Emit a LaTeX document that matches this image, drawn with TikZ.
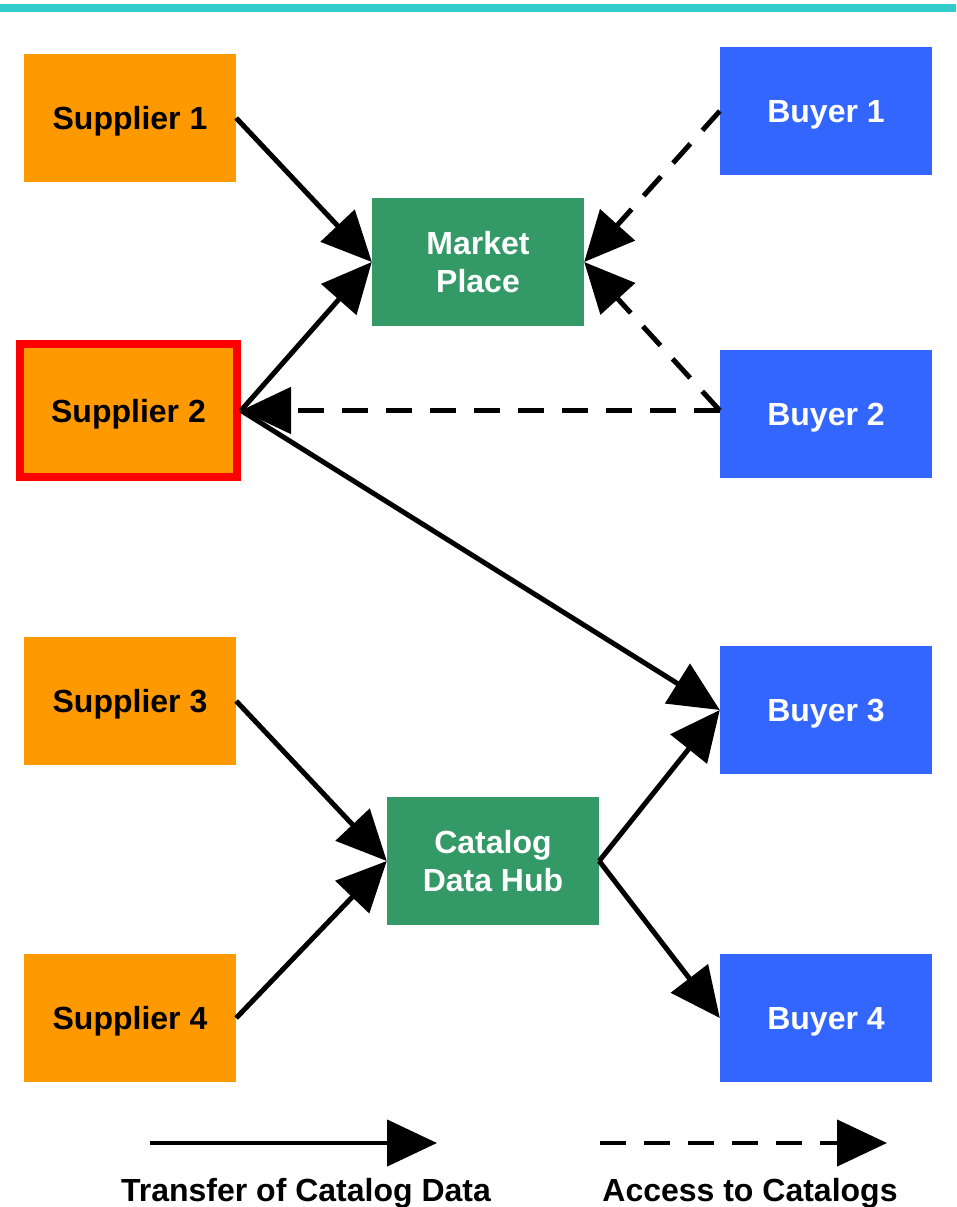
\documentclass[tikz,border=0pt]{standalone}
\usepackage{fontspec}
\setmainfont{Liberation Sans}
\usetikzlibrary{arrows.meta}
\definecolor{cam}{HTML}{FF9900}
\definecolor{xanhla}{HTML}{339966}
\definecolor{xanhduong}{HTML}{3366FF}
\definecolor{xanhngoc}{HTML}{33CCCC}
\begin{document}
\begin{tikzpicture}[x=1pt, y=-1pt, line join=miter, >={Triangle[length=50pt,width=46pt]},
	font=\fontsize{32}{38}\selectfont\bfseries]
			\tikzset{hop/.style={rectangle, minimum width=212pt, minimum height=128pt, inner sep=0pt, align=center, text depth=0pt},
				nha-cc/.style={hop, fill=cam, text=black},
				nguoi-mua/.style={hop, fill=xanhduong, text=white},
				trung-gian/.style={hop, fill=xanhla, text=white},
				truyen/.style={line width=5pt, ->},
				truy-cap/.style={line width=5pt, ->, dash pattern=on 26pt off 18pt}}
			\useasboundingbox (0,0) rectangle (956,1207);
			\fill[xanhngoc] (0,4) rectangle (956,12);
			% nha cung cap, nguoi mua
			\foreach \i/\y in {1/118,3/701,4/1018} \node[nha-cc] (sup\i) at (130,\y) {Supplier \i};
			\node[nha-cc, minimum width=217pt, minimum height=133pt, draw=red, line width=8pt] (sup2) at (128.5,410.5) {Supplier 2};
			\foreach \i/\y in {1/111,2/414,3/710,4/1018} \node[nguoi-mua] (buy\i) at (826,\y) {Buyer \i};
			\node[trung-gian] (mkt) at (478,262) {Market\\Place};
			\node[trung-gian] (hub) at (493,861) {Catalog\\Data Hub};
			\coordinate (b2w) at (buy2.west |- sup2.east);
			% mui ten
			\draw[truyen] (sup1.east)--(mkt.west);
			\draw[truyen] (sup2.east)--(mkt.west);
			\draw[truyen] (sup2.east)--(buy3.west);
			\draw[truyen] (sup3.east)--(hub.west);
			\draw[truyen] (sup4.east)--(hub.west);
			\draw[truyen] (hub.east)--(buy3.west);
			\draw[truyen] (hub.east)--(buy4.west);
			\draw[truy-cap] (buy1.west)--(mkt.east);
			\draw[truy-cap] (b2w)--(mkt.east);
			\draw[truy-cap] (b2w)--(sup2.east);
			% chu thich
			\coordinate (lg1a) at (150,1143); \coordinate (lg1b) at (437,1143);
			\coordinate (lg2a) at (600,1143); \coordinate (lg2b) at (887,1143);
			\draw[truyen, line width=4.5pt] (lg1a)--(lg1b);
			\draw[truy-cap, line width=4.5pt] (lg2a)--(lg2b);
			\node[text depth=0pt] (lg1) at (306,1190) {Transfer of Catalog Data};
			\node[text depth=0pt] (lg2) at (750,1190) {Access to Catalogs};
		\end{tikzpicture}
\end{document}
